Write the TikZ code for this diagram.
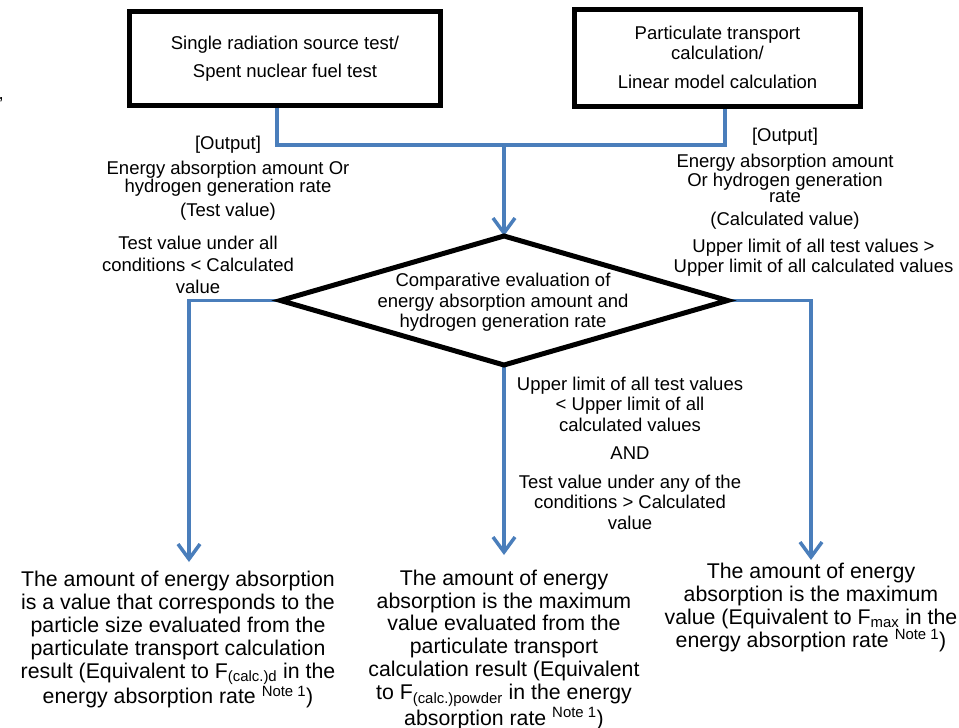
\documentclass[tikz,border=0pt]{standalone}
\usepackage{fontspec}
\setmainfont{Liberation Sans}
\usetikzlibrary{shapes.geometric,arrows.meta,backgrounds}
\definecolor{flowblue}{RGB}{74,126,187}
\begin{document}
\begin{tikzpicture}[x=1pt,y=-1pt,
  srcbox/.style={draw=black,line width=5pt,rectangle,inner sep=0pt},
  decision/.style={draw=black,line width=5pt,diamond,inner sep=0pt,outer sep=0pt},
  lbl/.style={align=center,inner sep=0pt},
  small/.style={font=\fontsize{18.5}{#1}\selectfont},
  result/.style={align=center,anchor=north,inner xsep=0pt,
    font=\fontsize{21.3}{22.9}\selectfont},
  flow/.style={draw=flowblue,line width=3.5pt},
  flowarrow/.style={flow,-{Straight Barb[length=15pt,width=22pt]}}
]
\useasboundingbox (0,0) rectangle (959,728);

% stray punctuation at the left margin
\node[anchor=base west,inner sep=0pt,small=20] (stray) at (-1.5,99) {,};

% input boxes
\node[srcbox,minimum width=311pt,minimum height=94pt] (srcA) at (285,58.5) {};
\node[lbl,small=28] (srcAtext) at (srcA.center) {Single radiation source test/\\Spent nuclear fuel test};

\node[srcbox,minimum width=286pt,minimum height=97pt] (srcB) at (717.5,58) {};
\node[lbl,small=20] (srcBtext) at (717.5,57.5) {Particulate transport\\calculation/\\[9pt]Linear model calculation};

% decision diamond
\node[decision,minimum width=447pt,minimum height=129pt] (cmp) at (504,300.5) {};
\node[lbl,small=20.5] (cmptext) at (503,302.5) {Comparative evaluation of\\energy absorption amount and\\hydrogen generation rate};

% output labels
\node[lbl,small=17] (outA) at (228,178.5) {[Output]\\[6pt]Energy absorption amount Or\\hydrogen generation rate\\[6pt](Test value)};
\node[lbl,small=16] (outB) at (785,178.5) {[Output]\\[8pt]Energy absorption amount\\Or hydrogen generation\\rate\\[7pt](Calculated value)};

% branch conditions
\node[lbl,small=22] (condL) at (198,265) {Test value under all\\conditions < Calculated\\value};
\node[lbl,small=20.5] (condR) at (813.5,257.5) {Upper limit of all test values >\\Upper limit of all calculated values};
\node[lbl,small=20.5] (condM) at (630,453) {Upper limit of all test values\\< Upper limit of all\\calculated values\\[8pt]AND\\[8pt]Test value under any of the\\conditions > Calculated\\value};

% results
\node[result,inner ysep=9pt] (resL) at (178,562) {The amount of energy absorption\\is a value that corresponds to the\\particle size evaluated from the\\particulate transport calculation\\result (Equivalent to F\textsubscript{(calc.)d} in the\\energy absorption rate \textsuperscript{Note 1})};
\node[result,inner ysep=14.5pt] (resM) at (504,555) {The amount of energy\\absorption is the maximum\\value evaluated from the\\particulate transport\\calculation result (Equivalent\\to F\textsubscript{(calc.)powder} in the energy\\absorption rate \textsuperscript{Note 1})};
\node[result,inner ysep=3pt] (resR) at (811,560) {The amount of energy\\absorption is the maximum\\value (Equivalent to F\textsubscript{max} in the\\energy absorption rate \textsuperscript{Note 1})};

\coordinate (jn) at (504,145);

% connectors
\begin{scope}[on background layer]
\draw[flow] ([xshift=-8pt]srcA.south) |- ([xshift=7.5pt]srcB.south |- jn) -- ([xshift=7.5pt]srcB.south);
\draw[flowarrow] (jn) -- (cmp.north);
\draw[flowarrow] (cmp.west) -| ([xshift=11pt]resL.north);
\draw[flowarrow] (cmp.south) -- (resM.north);
\draw[flowarrow] (cmp.east) -| (resR.north);
\end{scope}
\end{tikzpicture}
\end{document}
